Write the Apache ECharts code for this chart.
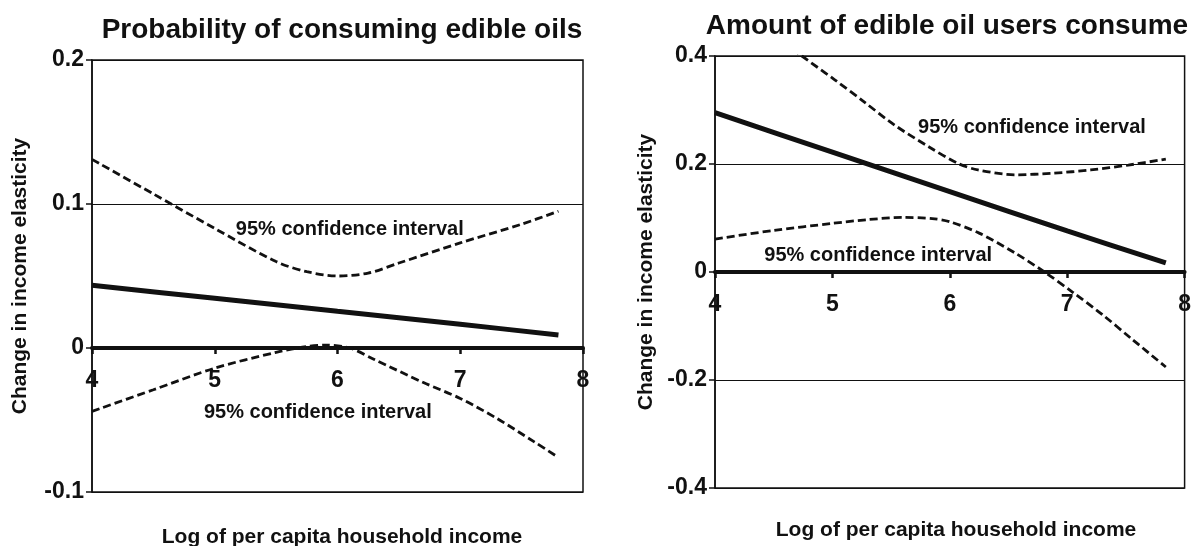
<!DOCTYPE html>
<html>
<head>
<meta charset="utf-8">
<script src="https://cdn.jsdelivr.net/npm/echarts@6/dist/echarts.min.js"></script>
<style>html,body{margin:0;padding:0;background:#fff;}#c{width:1194px;height:546px;}</style>
</head>
<body>
<div id="c"></div>
<script>
// ---------- data ----------
const leftTitle = 'Probability of consuming edible oils';
const rightTitle = 'Amount of edible oil users consume';
const xName = 'Log of per capita household income';
const yName = 'Change in income elasticity';
const ciText = '95% confidence interval';

const leftEstX = [4, 5, 6, 7, 7.8];
const leftEstY = [0.0435, 0.0345, 0.0255, 0.0165, 0.009];
const leftUpX = [4, 4.5, 5, 5.5, 5.75, 6, 6.25, 6.5, 7, 7.5, 7.8];
const leftUpY = [0.131, 0.107, 0.083, 0.060, 0.053, 0.050, 0.052, 0.059, 0.073, 0.086, 0.095];
const leftLoX = [4, 4.5, 5, 5.5, 5.75, 5.9, 6.1, 6.3, 6.7, 7, 7.3, 7.6, 7.8];
const leftLoY = [-0.044, -0.029, -0.014, -0.003, 0.001, 0.002, 0.0, -0.008, -0.024, -0.035, -0.049, -0.065, -0.076];

const rightEstX = [4, 5, 6, 7, 7.84];
const rightEstY = [0.295, 0.222, 0.149, 0.076, 0.017];
const rightUpX = [4, 4.74, 5.02, 5.27, 5.53, 5.82, 6.07, 6.24, 6.56, 6.88, 7.2, 7.52, 7.84];
const rightUpY = [0.52, 0.40, 0.356, 0.315, 0.272, 0.232, 0.201, 0.189, 0.180, 0.183, 0.189, 0.198, 0.209];
const rightLoX = [4, 4.5, 5, 5.3, 5.6, 5.85, 6.0, 6.25, 6.55, 6.8, 7.05, 7.3, 7.55, 7.84];
const rightLoY = [0.061, 0.077, 0.090, 0.097, 0.101, 0.099, 0.093, 0.072, 0.036, 0.001, -0.038, -0.079, -0.124, -0.176];

// annotation anchor points (data coordinates)
const leftCiLabelAt = [[6.1, 0.0826], [5.84, -0.045]];
const rightCiLabelAt = [[6.70, 0.268], [5.39, 0.031]];

// ---------- chart ----------
const FONT = '"Liberation Sans", Arial, Helvetica, sans-serif';
const INK = '#111111';
const zip = (xs, ys) => xs.map((x, i) => [x, ys[i]]);

// x axis is drawn along y = 0; offset lifts it from the grid bottom to the zero line
function xAxisCfg(gi, liftToZero) {
  return {
    type: 'value', gridIndex: gi, min: 4, max: 8, interval: 1,
    position: 'bottom', offset: -liftToZero,
    axisLine: { show: true, onZero: false, lineStyle: { color: INK, width: 4 } },
    axisTick: { show: true, length: 6, lineStyle: { color: INK, width: 2.5 } },
    axisLabel: { fontFamily: FONT, fontSize: 23, fontWeight: 'bold', color: INK, margin: 21 },
    splitLine: { show: false }
  };
}
function yAxisCfg(gi, min, max, interval, gap) {
  return {
    type: 'value', gridIndex: gi, min: min, max: max, interval: interval,
    name: yName, nameLocation: 'middle', nameGap: gap,
    nameTextStyle: { fontFamily: FONT, fontSize: 21, fontWeight: 'bold', color: INK },
    axisLine: { show: true, lineStyle: { color: INK, width: 1.5 } },
    axisTick: { show: true, length: 6, lineStyle: { color: INK, width: 1.5 } },
    axisLabel: { fontFamily: FONT, fontSize: 23, fontWeight: 'bold', color: INK, margin: 8 },
    splitLine: { show: true, lineStyle: { color: INK, width: 1.2 } }
  };
}
function lineSeries(gi, data, dashed) {
  return {
    type: 'line', xAxisIndex: gi, yAxisIndex: gi, data: data,
    symbol: 'none', smooth: 0.3, clip: true, silent: true,
    lineStyle: dashed ? { color: INK, width: 2.8, type: [8, 4] } : { color: INK, width: 5 },
    z: 3
  };
}
function labelSeries(gi, pts) {
  return {
    type: 'scatter', xAxisIndex: gi, yAxisIndex: gi, data: pts,
    symbolSize: 0, silent: true, z: 5,
    itemStyle: { opacity: 1, color: INK },
    label: { show: true, position: 'inside', formatter: ciText, opacity: 1,
      fontFamily: FONT, fontSize: 20, fontWeight: 'bold', color: INK,
      textBorderWidth: 0 }
  };
}
const titleStyle = { fontFamily: FONT, fontSize: 28, fontWeight: 'bold', color: INK };
const nameStyle = { fontFamily: FONT, fontSize: 21, fontWeight: 'bold', color: INK };

const option = {
  animation: false,
  backgroundColor: '#fff',
  title: [
    { text: leftTitle, left: 337, top: 11, textAlign: 'center', textStyle: titleStyle },
    { text: rightTitle, left: 942, top: 7, textAlign: 'center', textStyle: titleStyle },
    { text: xName, left: 337, top: 522, textAlign: 'center', textStyle: nameStyle },
    { text: xName, left: 951, top: 515, textAlign: 'center', textStyle: nameStyle }
  ],
  grid: [
    { left: 92, right: 611, top: 60, bottom: 54, show: true, borderColor: INK, borderWidth: 1.5 },
    { left: 715, right: 7, top: 56, bottom: 58, show: true, borderColor: INK, borderWidth: 1.5 }
  ],
  xAxis: [xAxisCfg(0, 144), xAxisCfg(1, 216)],
  yAxis: [yAxisCfg(0, -0.1, 0.2, 0.1, 61), yAxisCfg(1, -0.4, 0.4, 0.2, 58)],
  series: [
    lineSeries(0, zip(leftUpX, leftUpY), true),
    lineSeries(0, zip(leftLoX, leftLoY), true),
    lineSeries(0, zip(leftEstX, leftEstY), false),
    labelSeries(0, leftCiLabelAt),
    lineSeries(1, zip(rightUpX, rightUpY), true),
    lineSeries(1, zip(rightLoX, rightLoY), true),
    lineSeries(1, zip(rightEstX, rightEstY), false),
    labelSeries(1, rightCiLabelAt)
  ]
};
const chart = echarts.init(document.getElementById('c'), null, { renderer: 'canvas' });
chart.setOption(option);
</script>
</body>
</html>
